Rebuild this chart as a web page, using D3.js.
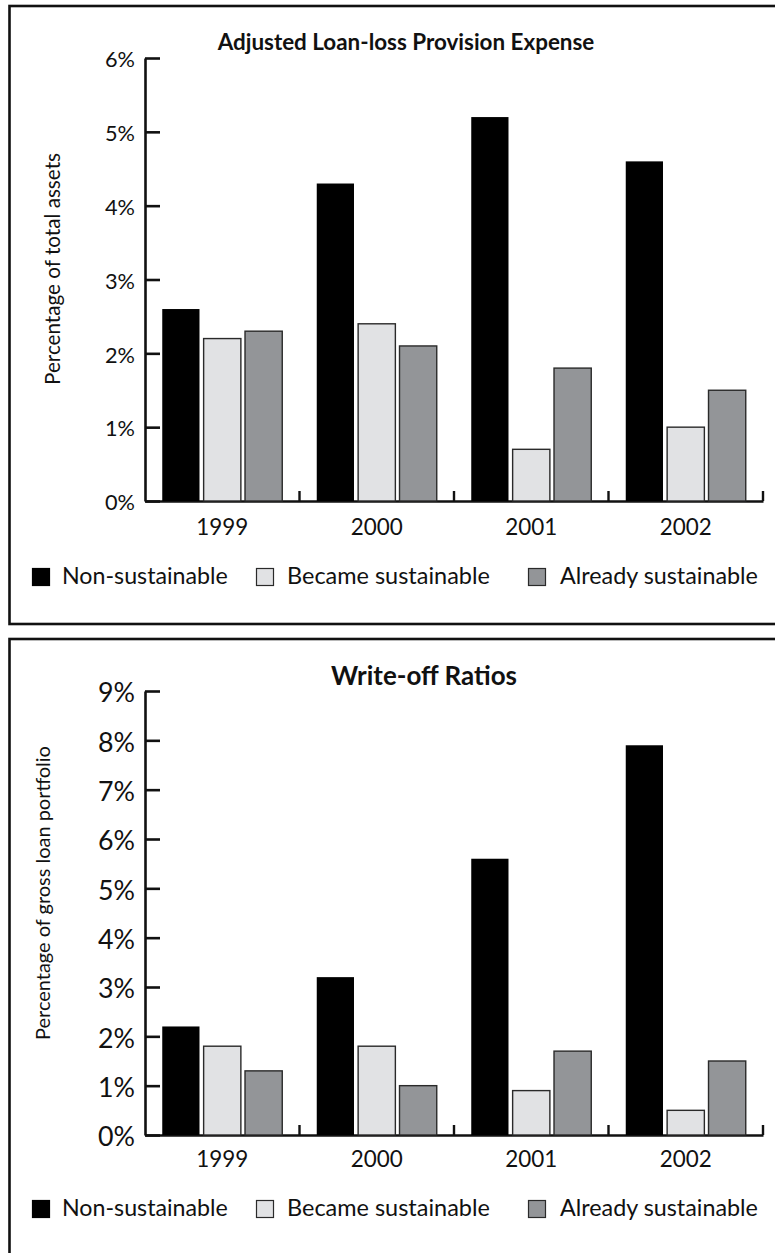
<!DOCTYPE html>
<html>
<head>
<meta charset="utf-8">
<script src="https://cdn.jsdelivr.net/npm/d3@7"></script>
<style>
  html, body { margin: 0; padding: 0; background: #fff; }
  svg { display: block; }
  text { font-family: Lato, "Open Sans", sans-serif; fill: #111; }
</style>
</head>
<body>
<svg id="chart" width="775" height="1253"></svg>
<script>
// ---- Data ----
const years = ["1999", "2000", "2001", "2002"];
const seriesNames = ["Non-sustainable", "Became sustainable", "Already sustainable"];
const seriesColors = ["#000000", "#e1e2e4", "#939598"];

const provisionNonSustainable = [2.6, 4.3, 5.2, 4.6];
const provisionBecameSustainable = [2.2, 2.4, 0.7, 1.0];
const provisionAlreadySustainable = [2.3, 2.1, 1.8, 1.5];
const provisionTicks = [0, 1, 2, 3, 4, 5, 6];

const writeoffNonSustainable = [2.2, 3.2, 5.6, 7.9];
const writeoffBecameSustainable = [1.8, 1.8, 0.9, 0.5];
const writeoffAlreadySustainable = [1.3, 1.0, 1.7, 1.5];
const writeoffTicks = [0, 1, 2, 3, 4, 5, 6, 7, 8, 9];

const FONT = "Lato, 'Open Sans', sans-serif";
const svg = d3.select("#chart");

function fitWidth(sel, target) {
  const w = sel.node().getComputedTextLength();
  const fs = parseFloat(sel.attr("font-size"));
  const nfs = fs * target / w;
  sel.attr("font-size", nfs);
  return nfs;
}

function drawPanel(cfg) {
  const g = svg.append("g");
  g.append("rect")
    .attr("x", 9.5).attr("y", cfg.boxTop)
    .attr("width", 800).attr("height", cfg.boxHeight)
    .attr("fill", "none").attr("stroke", "#111").attr("stroke-width", 2.6);

  const x = d3.scaleBand().domain(years).range([145, 763]).paddingInner(0).paddingOuter(0);
  const groupW = 120;
  const xs = d3.scaleBand().domain(seriesNames).range([0, groupW]).paddingInner(0.1);
  const y = d3.scaleLinear().domain([0, d3.max(cfg.ticks)]).range([cfg.y0, cfg.yTop]);

  const yAxis = d3.axisLeft(y)
    .tickValues(cfg.ticks)
    .tickFormat(d => d + "%")
    .tickSizeInner(-15)
    .tickSizeOuter(0)
    .tickPadding(10);
  const ya = g.append("g").attr("transform", "translate(145,0)").call(yAxis);
  ya.select(".domain").attr("stroke", "#111").attr("stroke-width", 2.6);
  ya.selectAll(".tick line").attr("stroke", "#111").attr("stroke-width", 2.6);
  ya.selectAll(".tick text")
    .attr("font-family", FONT)
    .attr("font-size", 20)
    .attr("fill", "#111")
    .attr("dy", "0.4em");
  const refTick = ya.selectAll(".tick text").filter(d => d === d3.max(cfg.ticks));
  const tfs = fitWidth(refTick, cfg.tickLabelWidth);
  ya.selectAll(".tick text").attr("font-size", tfs);

  const xAxis = d3.axisBottom(x).tickSize(0).tickFormat("");
  const xa = g.append("g").attr("transform", `translate(0,${cfg.y0})`).call(xAxis);
  xa.select(".domain").attr("stroke", "#111").attr("stroke-width", 2.6);
  xa.selectAll(".tick").remove();
  g.selectAll(".bt").data(years).enter().append("line")
    .attr("x1", d => x(d) + x.bandwidth()).attr("x2", d => x(d) + x.bandwidth())
    .attr("y1", cfg.y0 - 10).attr("y2", cfg.y0)
    .attr("stroke", "#111").attr("stroke-width", 2.4);

  const rows = years.map((yr, i) => ({
    year: yr,
    values: cfg.values.map((arr, k) => ({ name: seriesNames[k], value: arr[i], k }))
  }));
  const groups = g.selectAll(".grp").data(rows).enter().append("g")
    .attr("transform", d => `translate(${x(d.year) + (x.bandwidth() - groupW) / 2},0)`);
  groups.selectAll("rect").data(d => d.values).enter().append("rect")
    .attr("x", d => xs(d.name))
    .attr("width", xs.bandwidth())
    .attr("y", d => y(d.value))
    .attr("height", d => cfg.y0 - y(d.value))
    .attr("fill", d => seriesColors[d.k])
    .attr("stroke", d => d.k === 0 ? "none" : "#2a2a2a")
    .attr("stroke-width", 1.4);

  const cl = g.selectAll(".cl").data(years).enter().append("text")
    .attr("x", d => x(d) + x.bandwidth() / 2)
    .attr("y", cfg.catBaseline)
    .attr("text-anchor", "middle")
    .attr("font-size", 20)
    .text(d => d);
  const cfs = fitWidth(d3.select(cl.nodes()[0]), 52);
  cl.attr("font-size", cfs);

  const t = g.append("text")
    .attr("x", cfg.titleX).attr("y", cfg.titleBaseline)
    .attr("text-anchor", "middle")
    .attr("font-weight", "bold")
    .attr("font-size", 20)
    .text(cfg.title);
  fitWidth(t, cfg.titleWidth);

  const yl = g.append("text")
    .attr("transform", `translate(${cfg.ylabelX},${cfg.ylabelY}) rotate(-90)`)
    .attr("text-anchor", "middle")
    .attr("dy", "0.35em")
    .attr("font-size", 18)
    .text(cfg.ylabel);
  fitWidth(yl, cfg.ylabelWidth);

  const legX = [32, 256, 528];
  const legTX = [62, 287, 560];
  const legW = [166, 203, 198];
  const lg = g.append("g");
  seriesNames.forEach((name, k) => {
    lg.append("rect")
      .attr("x", legX[k] + 0.5).attr("y", cfg.legendTop + 0.5)
      .attr("width", 17).attr("height", 17)
      .attr("fill", seriesColors[k])
      .attr("stroke", k === 0 ? "#000" : "#2a2a2a")
      .attr("stroke-width", 1.2);
    const tx = lg.append("text")
      .attr("x", legTX[k]).attr("y", cfg.legendTop + 16)
      .attr("font-size", 19)
      .text(name);
    fitWidth(tx, legW[k]);
  });
}

drawPanel({
  boxTop: 6, boxHeight: 618,
  y0: 501, yTop: 58,
  ticks: provisionTicks,
  values: [provisionNonSustainable, provisionBecameSustainable, provisionAlreadySustainable],
  tickLabelWidth: 30,
  catBaseline: 535,
  title: "Adjusted Loan-loss Provision Expense",
  titleX: 406, titleBaseline: 50, titleWidth: 377,
  ylabel: "Percentage of total assets",
  ylabelX: 53, ylabelY: 269, ylabelWidth: 232,
  legendTop: 568
});

drawPanel({
  boxTop: 639, boxHeight: 700,
  y0: 1135, yTop: 691,
  ticks: writeoffTicks,
  values: [writeoffNonSustainable, writeoffBecameSustainable, writeoffAlreadySustainable],
  tickLabelWidth: 37,
  catBaseline: 1167,
  title: "Write-off Ratios",
  titleX: 424, titleBaseline: 685, titleWidth: 186,
  ylabel: "Percentage of gross loan portfolio",
  ylabelX: 43, ylabelY: 893, ylabelWidth: 294,
  legendTop: 1200
});
</script>
</body>
</html>
